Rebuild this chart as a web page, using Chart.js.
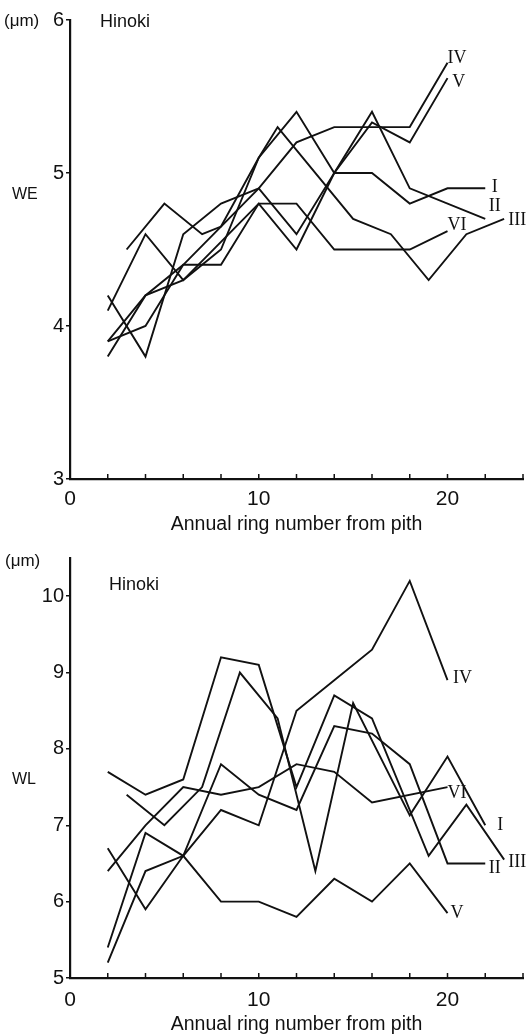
<!DOCTYPE html>
<html>
<head>
<meta charset="utf-8">
<script src="https://cdn.jsdelivr.net/npm/chart.js@4.4.0/dist/chart.umd.min.js"></script>
<style>
    html, body { margin: 0; padding: 0; background: #fff; }
    #wrap { position: relative; width: 526px; height: 1036px; overflow: hidden; }
    .box { position: absolute; left: 0; width: 526px; }
    #boxWE { top: 0; height: 536px; }
    #boxWL { top: 530px; height: 506px; }
</style>
</head>
<body>
<div id="wrap">
    <div class="box" id="boxWE"><canvas id="chartWE"></canvas></div>
    <div class="box" id="boxWL"><canvas id="chartWL"></canvas></div>
</div>
<script>
// Series names (tree numbers)
const seriesNames = ['I', 'II', 'III', 'IV', 'V', 'VI'];

// WE: [annual ring number, width in um]
const weI   = [[2, 3.9], [4, 4.2], [6, 4.3], [8, 4.5], [10, 5.1], [12, 5.4], [14, 5.0], [16, 5.0], [18, 4.8], [20, 4.9], [22, 4.9]];
const weII  = [[2, 4.1], [4, 4.6], [6, 4.3], [10, 4.8], [12, 4.5], [14, 5.0], [16, 5.4], [18, 4.9], [22, 4.7]];
const weIII = [[3, 4.5], [5, 4.8], [7, 4.6], [8, 4.65], [10, 5.1], [11, 5.3], [15, 4.7], [17, 4.6], [19, 4.3], [21, 4.6], [23, 4.7]];
const weIV  = [[2, 3.8], [4, 4.2], [6, 4.4], [8, 4.65], [10, 4.9], [12, 5.2], [14, 5.3], [16, 5.3], [18, 5.3], [20, 5.72]];
const weV   = [[2, 4.2], [4, 3.8], [6, 4.6], [8, 4.8], [10, 4.9], [12, 4.6], [14, 5.0], [16, 5.33], [18, 5.2], [20, 5.62]];
const weVI  = [[2, 3.9], [4, 4.0], [6, 4.4], [8, 4.4], [10, 4.8], [12, 4.8], [14, 4.5], [16, 4.5], [18, 4.5], [20, 4.62]];

// WL: [annual ring number, width in um]
const wlI   = [[3, 7.4], [5, 7.0], [7, 7.5], [9, 9.0], [11, 8.4], [13, 6.4], [15, 8.6], [18, 7.13], [20, 7.9], [22, 7.0]];
const wlII  = [[2, 5.2], [4, 6.4], [6, 6.6], [8, 7.8], [10, 7.4], [12, 7.2], [14, 8.3], [16, 8.2], [18, 7.8], [20, 6.5], [22, 6.5]];
const wlIII = [[2, 7.7], [4, 7.4], [6, 7.6], [8, 9.2], [10, 9.1], [12, 7.5], [14, 8.7], [16, 8.4], [19, 6.6], [21, 7.27], [23, 6.55]];
const wlIV  = [[2, 6.7], [4, 5.9], [6, 6.6], [8, 7.2], [10, 7.0], [12, 8.5], [14, 8.9], [16, 9.3], [18, 10.2], [20, 8.9]];
const wlV   = [[2, 5.4], [4, 6.9], [6, 6.6], [8, 6.0], [10, 6.0], [12, 5.8], [14, 6.3], [16, 6.0], [18, 6.5], [20, 5.85]];
const wlVI  = [[2, 6.4], [4, 7.0], [6, 7.5], [8, 7.4], [10, 7.5], [12, 7.8], [14, 7.7], [16, 7.3], [20, 7.5]];

// Axis ranges / ticks
const xMin = 0, xMax = 24, xStep = 2;
const xLabelEvery = 10;
const weMin = 3, weMax = 6;
const wlMin = 5, wlMax = 10.5;

// Where the roman numerals sit, in data units
const weLabelAt = [[22.5, 4.91], [22.5, 4.78], [23.7, 4.69], [20.5, 5.75], [20.6, 5.59], [20.5, 4.66]];
const wlLabelAt = [[22.8, 7.0], [22.5, 6.44], [23.7, 6.52], [20.8, 8.93], [20.5, 5.85], [20.5, 7.42]];

const INK = '#111';
const SANS = '"Liberation Sans", Arial, sans-serif';
const SERIF = '"Liberation Serif", "Times New Roman", serif';

// inward tick marks on the x axis + free text
const extras = {
    id: 'extras',
    afterDraw(chart, args, opts) {
        const c = chart.ctx;
        const xs = chart.scales.x, ys = chart.scales.y;
        c.save();
        c.strokeStyle = INK;
        c.lineWidth = 1.5;
        xs.ticks.forEach((t, i) => {
            const px = xs.getPixelForTick(i);
            c.beginPath();
            c.moveTo(px, ys.bottom);
            c.lineTo(px, ys.bottom - 5);
            c.stroke();
        });
        c.fillStyle = INK;
        c.textBaseline = 'middle';
        // roman numerals
        c.font = '18px ' + SERIF;
        c.textAlign = 'center';
        opts.names.forEach((n, i) => {
            const p = opts.labelAt[i];
            c.fillText(n, xs.getPixelForValue(p[0]), ys.getPixelForValue(p[1]));
        });
        // free text
        opts.texts.forEach(t => {
            c.font = t.font;
            c.textAlign = t.align || 'left';
            c.fillText(t.text, t.x, t.y);
        });
        c.restore();
    }
};

function toPoints(arr) {
    return arr.map(p => ({ x: p[0], y: p[1] }));
}

function makeChart(canvasId, series, yMin, yMax, topPad, xAxisH, tickPad, titlePad, labelAt, texts) {
    const datasets = series.map((s, i) => ({
        label: seriesNames[i],
        data: toPoints(s),
        borderColor: INK,
        borderWidth: 1.9,
        pointRadius: 0,
        tension: 0,
        fill: false
    }));
    return new Chart(document.getElementById(canvasId), {
        type: 'line',
        data: { datasets: datasets },
        plugins: [extras],
        options: {
            responsive: true,
            maintainAspectRatio: false,
            animation: false,
            events: [],
            layout: { autoPadding: false, padding: { left: 0, right: 3, top: topPad, bottom: 0 } },
            plugins: {
                legend: { display: false },
                tooltip: { enabled: false },
                extras: { names: seriesNames, labelAt: labelAt, texts: texts }
            },
            scales: {
                x: {
                    type: 'linear',
                    min: xMin,
                    max: xMax,
                    afterFit: s => { s.height = xAxisH; },
                    grid: { display: false },
                    border: { display: true, color: INK, width: 2.2 },
                    ticks: {
                        stepSize: xStep,
                        autoSkip: false,
                        maxRotation: 0,
                        padding: tickPad,
                        color: INK,
                        font: { family: SANS, size: 21 },
                        callback: v => (v % xLabelEvery === 0 ? String(v) : '')
                    },
                    title: {
                        display: true,
                        text: 'Annual ring number from pith',
                        color: INK,
                        padding: titlePad,
                        font: { family: SANS, size: 19.5 }
                    }
                },
                y: {
                    type: 'linear',
                    min: yMin,
                    max: yMax,
                    afterFit: s => { s.width = 70; },
                    afterBuildTicks: s => { s.ticks = s.ticks.filter(t => Number.isInteger(t.value)); },
                    grid: { display: true, drawOnChartArea: false, drawTicks: true, tickLength: 4, color: INK, lineWidth: 1.5 },
                    border: { display: true, color: INK, width: 2.2 },
                    ticks: {
                        stepSize: 1,
                        padding: 2,
                        color: INK,
                        font: { family: SANS, size: 20 }
                    }
                }
            }
        }
    });
}

makeChart('chartWE', [weI, weII, weIII, weIV, weV, weVI], weMin, weMax, 20, 57, 0, { top: 2, bottom: 0 }, weLabelAt, [
    { text: '(\u03bcm)', x: 4, y: 21, font: '17px ' + SANS },
    { text: 'Hinoki', x: 100, y: 22, font: '18px ' + SANS },
    { text: 'WE', x: 12, y: 195, font: '16px ' + SANS }
]);

makeChart('chartWL', [wlI, wlII, wlIII, wlIV, wlV, wlVI], wlMin, wlMax, 28, 58, 2, { top: 2, bottom: 0 }, wlLabelAt, [
    { text: '(\u03bcm)', x: 5, y: 31, font: '17px ' + SANS },
    { text: 'Hinoki', x: 109, y: 55, font: '18px ' + SANS },
    { text: 'WL', x: 12, y: 250, font: '16px ' + SANS }
]);
</script>
</body>
</html>
